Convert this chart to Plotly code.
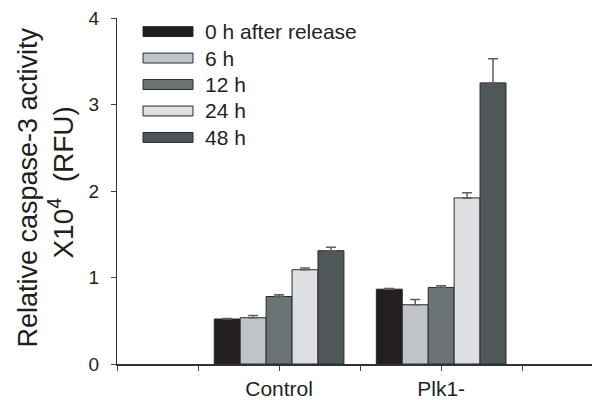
import plotly.graph_objects as go

# ---- data ----
groups = ["Control", "Plk1-"]
series_names = ["0 h after release", "6 h", "12 h", "24 h", "48 h"]
control_vals = [0.52, 0.535, 0.78, 1.09, 1.31]
control_err = [0.005, 0.025, 0.02, 0.02, 0.04]
plk_vals = [0.865, 0.685, 0.885, 1.92, 3.25]
plk_err = [0.008, 0.06, 0.02, 0.06, 0.28]
y_ticks = [0, 1, 2, 3, 4]

colors = ["#231f20", "#c0c4c8", "#6b7375", "#dedfe2", "#4f5758"]
FONT = "Liberation Sans, Arial, sans-serif"

# page body has an 8px margin; size the figure so it fills the 600x400 window
OFF = 8
W, H = 600 - OFF, 400 - OFF
ML, MR, MT, MB = 117 - OFF, 0, 18 - OFF, 33

# group positions on a linear axis: groups sit at every other tick
x_pos = [2 * (i + 1) for i in range(len(groups))]
minor_vals = [0] + [2 * i + 1 for i in range(len(groups) + 1)]

fig = go.Figure()
for i, name in enumerate(series_names):
    fig.add_trace(go.Bar(
        x=x_pos,
        y=[control_vals[i], plk_vals[i]],
        name=name,
        marker=dict(color=colors[i], line=dict(color="#2a2a2a", width=1)),
        error_y=dict(type="data", array=[control_err[i], plk_err[i]],
                     arrayminus=[0, 0], symmetric=False,
                     color="#5e5e5e", thickness=1.5, width=5),
        showlegend=False,
    ))

pw = W - ML - MR
ph = H - MT - MB
def px2x(px):  # screen pixel -> paper
    return (px - OFF - ML) / pw
def py2y(py):
    return (H - MB - (py - OFF)) / ph

shapes = []
annotations = []
leg_top, leg_step, sw_h = 31.7, 26.7, 10
for i, name in enumerate(series_names):
    cy = leg_top + i * leg_step
    shapes.append(dict(type="rect", xref="paper", yref="paper",
                       x0=px2x(143), x1=px2x(193),
                       y0=py2y(cy + sw_h / 2), y1=py2y(cy - sw_h / 2),
                       fillcolor=colors[i], line=dict(color="#2a2a2a", width=1)))
    annotations.append(dict(xref="paper", yref="paper", x=px2x(203), y=py2y(cy),
                            text=name, showarrow=False, xanchor="left", yanchor="middle",
                            font=dict(family=FONT, size=21, color="#231f20")))

# y-axis title as two rotated lines
annotations.append(dict(xref="paper", yref="paper", x=px2x(28), y=py2y(189),
                        text="Relative caspase-3 activity", textangle=-90, showarrow=False,
                        xanchor="center", yanchor="middle",
                        font=dict(family=FONT, size=27, color="#231f20")))
annotations.append(dict(xref="paper", yref="paper", x=px2x(61), y=py2y(184),
                        text="X10<sup>4</sup>  (RFU)", textangle=-90, showarrow=False,
                        xanchor="center", yanchor="middle",
                        font=dict(family=FONT, size=28, color="#231f20")))

fig.update_layout(
    width=W, height=H,
    margin=dict(l=ML, r=MR, t=MT, b=MB, pad=0),
    paper_bgcolor="white", plot_bgcolor="white",
    barmode="group", bargap=0.2, bargroupgap=0,
    shapes=shapes, annotations=annotations,
    font=dict(family=FONT, color="#231f20"),
)
fig.update_xaxes(
    range=[0, 5.96], tickmode="array", tickvals=x_pos, ticktext=groups,
    ticks="outside", ticklen=5, tickwidth=1, tickcolor="#444",
    minor=dict(tickmode="array", tickvals=minor_vals, ticks="outside",
               ticklen=5, tickwidth=1, tickcolor="#444", showgrid=False),
    showline=True, linecolor="#333", linewidth=1.5,
    showgrid=False, zeroline=False, ticklabeloverflow="allow",
    tickfont=dict(family=FONT, size=21, color="#231f20"),
)
fig.update_yaxes(
    range=[0, 4], tickmode="array", tickvals=y_ticks,
    ticks="outside", ticklen=5, tickwidth=1, tickcolor="#444",
    showline=True, linecolor="#333", linewidth=1,
    showgrid=False, zeroline=False, ticklabelstandoff=8, ticklabeloverflow="allow",
    tickfont=dict(family=FONT, size=19, color="#231f20"),
)

fig.write_html("out.html")
